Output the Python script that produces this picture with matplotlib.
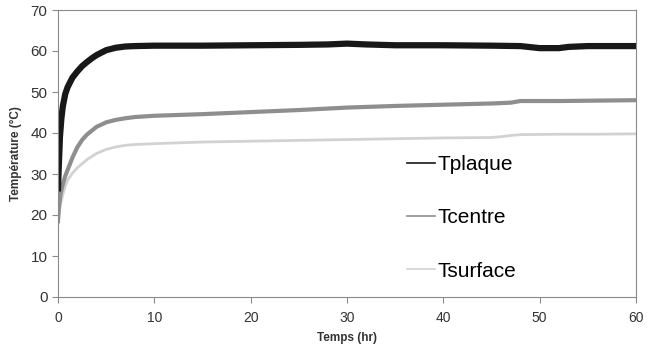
import matplotlib.pyplot as plt

plt.rcParams['font.family'] = ['Liberation Sans', 'DejaVu Sans']

# donnees
t_plaque = [0, 0.1, 0.2, 0.35, 0.5, 0.75, 1, 1.5, 2, 2.5, 3, 3.5, 4, 5, 6, 7, 8, 10, 15, 20, 25, 28, 30, 32, 35, 40, 45, 48, 50, 52, 53, 55, 60]
y_plaque = [26.5, 33, 39, 43.5, 46.5, 49.5, 51.2, 53.5, 55, 56.3, 57.3, 58.2, 59, 60.2, 60.8, 61.1, 61.2, 61.3, 61.3, 61.4, 61.5, 61.6, 61.8, 61.6, 61.4, 61.4, 61.3, 61.2, 60.7, 60.7, 61.0, 61.2, 61.2]

t_centre = [0, 0.1, 0.25, 0.5, 0.75, 1, 1.5, 2, 2.5, 3, 4, 5, 6, 7, 8, 10, 15, 20, 25, 30, 35, 40, 45, 47, 48, 52, 56, 60]
y_centre = [18.5, 22, 25, 27.5, 29.5, 31, 34, 36.5, 38.3, 39.6, 41.5, 42.6, 43.2, 43.6, 43.9, 44.2, 44.6, 45.1, 45.6, 46.2, 46.6, 46.9, 47.2, 47.4, 47.8, 47.8, 47.9, 48.0]

t_surface = [0, 0.1, 0.25, 0.5, 0.75, 1, 1.5, 2, 3, 4, 5, 6, 7, 8, 10, 15, 20, 25, 30, 35, 40, 45, 46, 47, 48, 52, 56, 60]
y_surface = [18, 20.5, 22.5, 25, 27, 28.5, 30.2, 31.5, 33.5, 35, 36, 36.6, 37, 37.2, 37.4, 37.8, 38, 38.2, 38.4, 38.6, 38.8, 38.9, 39.1, 39.4, 39.6, 39.7, 39.7, 39.8]

xticks = [0, 10, 20, 30, 40, 50, 60]
yticks = [0, 10, 20, 30, 40, 50, 60, 70]

fig = plt.figure(figsize=(6.5, 3.52), dpi=100)
ax = fig.add_axes([58/650, 55/352, 578/650, 287/352])

ax.plot(t_surface, y_surface, color='#d2d2d2', lw=2)
ax.plot(t_centre, y_centre, color='#8e8e8e', lw=3)
ax.plot(t_plaque, y_plaque, color='#181818', lw=4.5)

# lignes fines pour la legende
h1, = ax.plot([], [], color='#181818', lw=1.2, label='Tplaque')
h2, = ax.plot([], [], color='#8e8e8e', lw=1.2, label='Tcentre')
h3, = ax.plot([], [], color='#d2d2d2', lw=1.2, label='Tsurface')
ax.legend(handles=[h1, h2, h3], loc='upper left', bbox_to_anchor=(0.572, 0.56),
          frameon=False, fontsize=15, labelspacing=1.65, handlelength=1.35,
          handletextpad=0.1)

ax.set_xlim(0, 60)
ax.set_ylim(0, 70)
ax.set_xticks(xticks)
ax.set_yticks(yticks)
for s in ax.spines.values():
    s.set_color('#8a8a8a')
ax.tick_params(colors='#8a8a8a', labelcolor='#333333', labelsize=10, length=4)
ax.tick_params(axis='x', pad=6)
ax.tick_params(axis='y', labelsize=11)
ax.set_xlabel('Temps (hr)', fontsize=8.5, fontweight='bold', color='#333333', labelpad=5)
ax.set_ylabel('Température (°C)', fontsize=8.5, fontweight='bold', color='#333333', labelpad=6)

fig.savefig('out.png', dpi=100)
